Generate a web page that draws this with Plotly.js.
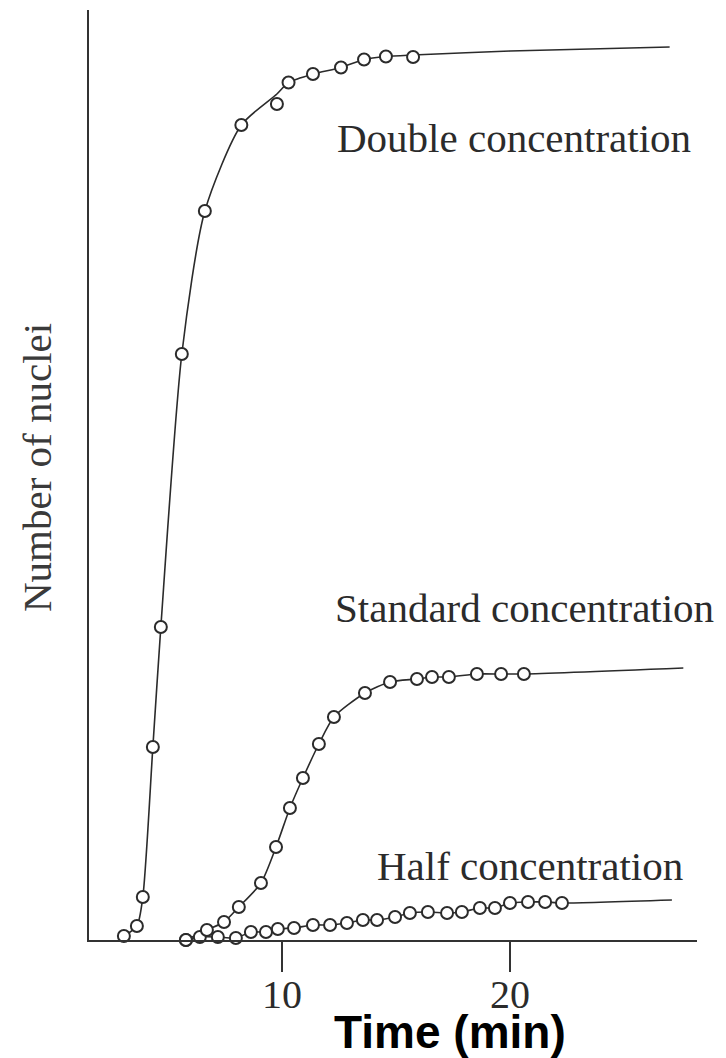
<!DOCTYPE html>
<html>
<head>
<meta charset="utf-8">
<script src="https://cdn.plot.ly/plotly-3.0.1.min.js"></script>
<style>
  html, body { margin: 0; padding: 0; background: #fff; }
  #chart { width: 726px; height: 1058px; }
</style>
</head>
<body>
<div id="chart"></div>
<script>
// ---- Data (time in min, nuclei in arbitrary units) ----
const doubleT = [3.07, 3.64, 3.90, 4.34, 4.69, 5.61, 6.62, 8.22, 9.78, 10.29, 11.36, 12.59, 13.60, 14.56, 15.75];
const doubleN = [0.4, 1.4, 4.3, 19.3, 31.3, 58.6, 72.9, 81.5, 83.6, 85.75, 86.6, 87.25, 88.05, 88.35, 88.3];
// fitted curve drawn through the double-concentration data
const doubleCurveT = [3.07, 3.64, 3.90, 4.34, 4.69, 5.61, 6.62, 8.22, 9.78, 10.29, 11.36, 12.59, 13.60, 14.56, 15.75, 20.0, 27.0];
const doubleCurveN = [0.4, 1.4, 4.3, 19.3, 31.3, 58.6, 72.9, 81.5, 84.6, 85.75, 86.6, 87.25, 88.05, 88.35, 88.5, 88.9, 89.3];

const standardT = [5.79, 6.71, 7.46, 8.11, 9.08, 9.74, 10.35, 10.92, 11.62, 12.28, 13.64, 14.74, 15.92, 16.58, 17.32, 18.55, 19.61, 20.61];
const standardN = [0.0, 1.0, 1.8, 3.3, 5.7, 9.3, 13.2, 16.2, 19.6, 22.3, 24.7, 25.8, 26.1, 26.3, 26.3, 26.6, 26.6, 26.6];
const standardTailT = [27.6];
const standardTailN = [27.2];

const halfT = [5.79, 6.40, 7.19, 7.98, 8.64, 9.30, 9.82, 10.53, 11.36, 12.11, 12.85, 13.55, 14.17, 14.96, 15.61, 16.40, 17.24, 17.89, 18.68, 19.34, 20.00, 20.79, 21.54, 22.28];
const halfN = [0.0, 0.3, 0.3, 0.2, 0.8, 0.8, 1.1, 1.2, 1.5, 1.5, 1.7, 2.0, 2.0, 2.3, 2.7, 2.8, 2.7, 2.8, 3.2, 3.2, 3.7, 3.8, 3.8, 3.7];
const halfTailT = [27.1];
const halfTailN = [4.0];

const xTickVals = [10, 20];
const xTickText = ['10', '20'];

const seriesLabels = ['Double concentration', 'Standard concentration', 'Half concentration'];
const labelT = [12.32, 12.25, 14.1];
const labelN = [80.2, 33.2, 7.4];

const xTitle = 'Time (min)';
const yTitle = 'Number of nuclei';

// ---- Styling ----
const ink = '#2b2b2b';
const serif = 'Liberation Serif, Times New Roman, serif';
const markerStyle = { symbol: 'circle', size: 12, color: '#ffffff', line: { color: ink, width: 2 } };
const lineStyle = { color: ink, width: 1.6, shape: 'spline', smoothing: 0.7 };

function curve(x, y) {
  return { x: x, y: y, type: 'scatter', mode: 'lines', line: lineStyle, hoverinfo: 'skip', cliponaxis: false, showlegend: false };
}
function pts(x, y, name) {
  return { x: x, y: y, name: name, type: 'scatter', mode: 'markers', marker: markerStyle, cliponaxis: false, showlegend: false };
}

const traces = [
  curve(doubleCurveT, doubleCurveN),
  curve(standardT.concat(standardTailT), standardN.concat(standardTailN)),
  curve(halfT.concat(halfTailT), halfN.concat(halfTailN)),
  pts(halfT, halfN, seriesLabels[2]),
  pts(standardT, standardN, seriesLabels[1]),
  pts(doubleT, doubleN, seriesLabels[0])
];

const annotations = seriesLabels.map((s, i) => ({
  x: labelT[i], y: labelN[i], xref: 'x', yref: 'y', text: s, showarrow: false,
  xanchor: 'left', yanchor: 'middle', font: { family: serif, size: 41, color: ink }
}));
annotations.push({
  x: 0.594, y: -0.099, xref: 'paper', yref: 'paper', text: '<b>' + xTitle + '</b>', showarrow: false,
  xanchor: 'center', yanchor: 'middle', font: { family: 'Liberation Sans, Arial, sans-serif', size: 46, color: '#000' }
});
annotations.push({
  x: -0.0855, y: 0.5075, xref: 'paper', yref: 'paper', text: yTitle, showarrow: false, textangle: -90,
  xanchor: 'center', yanchor: 'middle', font: { family: serif, size: 41, color: '#3a3a3a' }
});

const layout = {
  width: 726, height: 1058,
  margin: { l: 89, r: 29, t: 10, b: 118 },
  paper_bgcolor: '#ffffff', plot_bgcolor: '#ffffff',
  showlegend: false,
  xaxis: {
    range: [1.54, 28.2], showgrid: false, zeroline: false,
    showline: true, linecolor: '#333', linewidth: 2,
    ticks: 'outside', ticklen: 30, tickwidth: 2, tickcolor: '#333',
    tickvals: xTickVals, ticktext: xTickText, ticklabelstandoff: -12,
    tickfont: { family: serif, size: 40, color: ink }
  },
  yaxis: {
    range: [0, 93], showgrid: false, zeroline: false,
    showline: true, linecolor: '#333', linewidth: 2,
    ticks: '', showticklabels: false
  },
  annotations: annotations
};

Plotly.newPlot('chart', traces, layout, { displayModeBar: false, staticPlot: true });
</script>
</body>
</html>
